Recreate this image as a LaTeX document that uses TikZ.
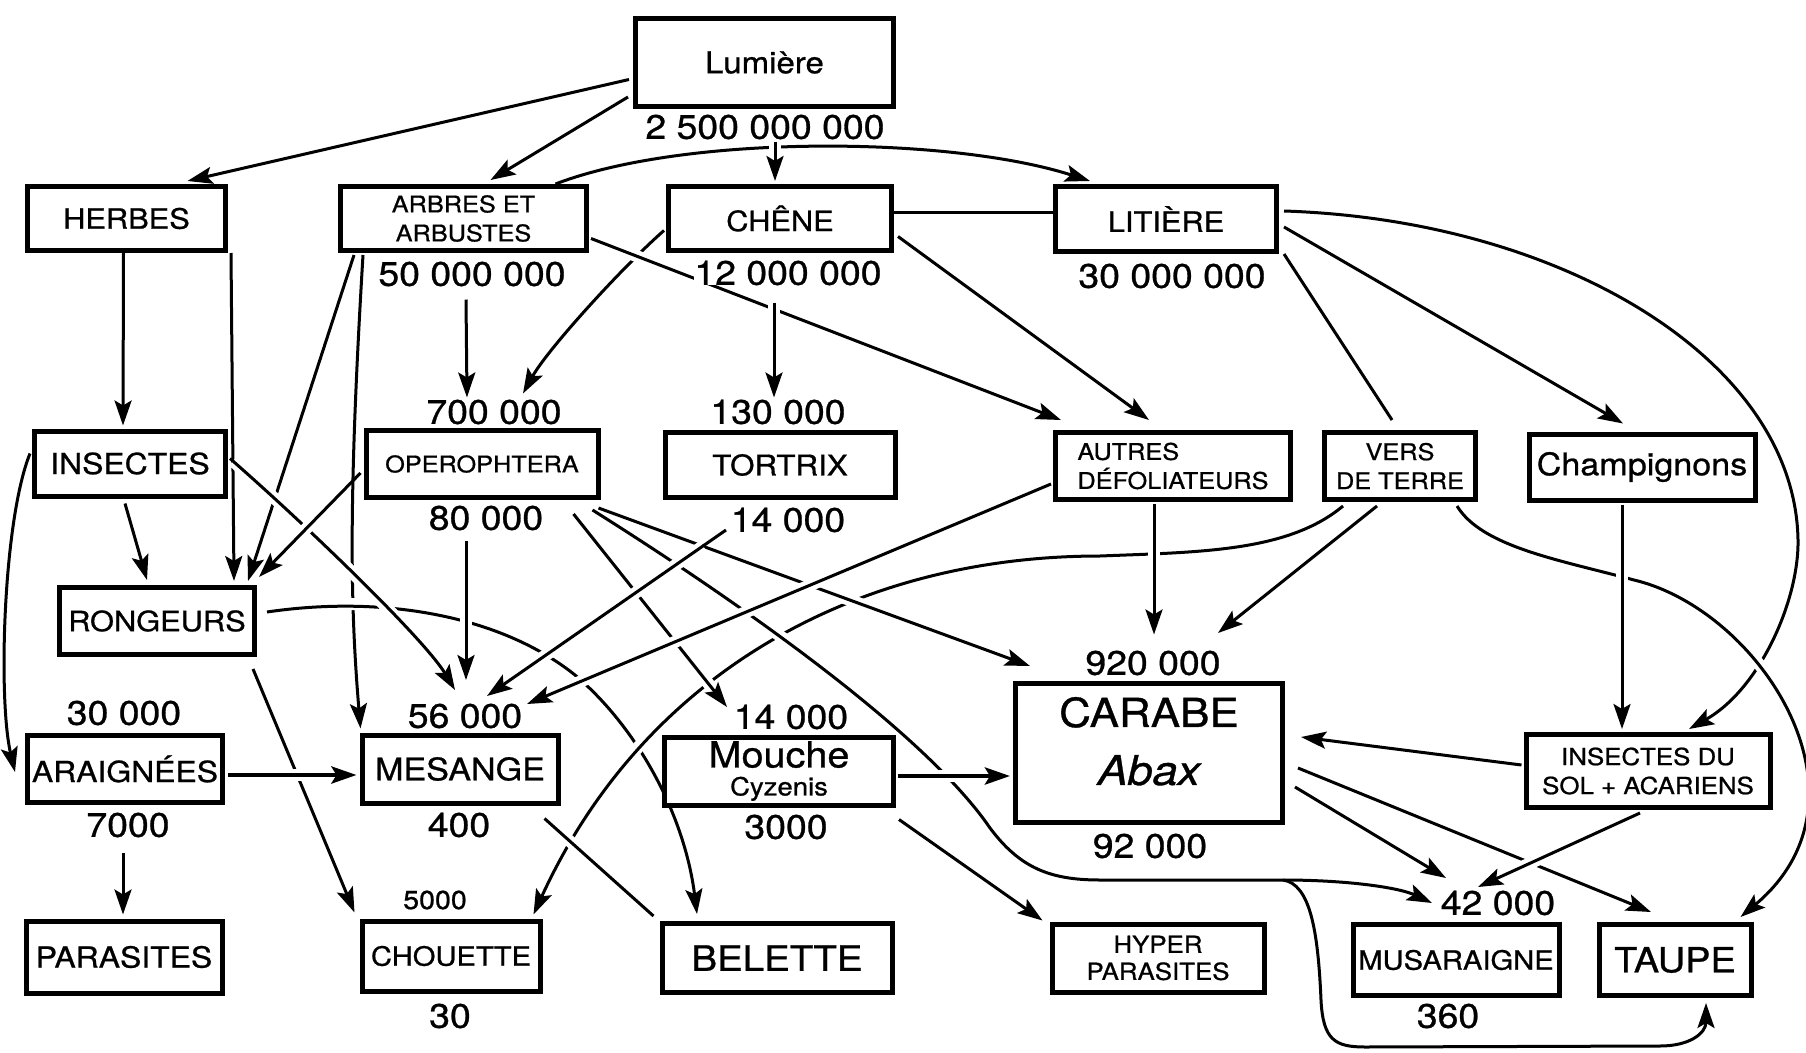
\documentclass[tikz,border=0pt]{standalone}
\usepackage{fontspec}
\setmainfont{TeX Gyre Heros}[FakeStretch=1.1,FakeBold=0.8]
\usetikzlibrary{arrows.meta}
\pgfdeclarelayer{bg}
\pgfsetlayers{bg,main}
\newcommand\fsz[2]{\fontsize{#1}{#2}\selectfont}
\begin{document}
\begin{tikzpicture}[x=1pt,y=-1pt,
  box/.style={draw=black, line width=5pt, fill=white, inner sep=0pt, align=center, font=\fsz{28}{30}},
  num/.style={fill=white, inner sep=0pt, font=\fsz{34}{36}},
  ln/.style={line width=3pt, line join=round},
  arr/.style={ln, -{Stealth[length=25pt,width=17pt,inset=5pt]}},
  brk/.style={preaction={draw=white, line width=12pt, arrows=-, shorten <=#1, shorten >=#1}},
  brk/.default=28pt]
\useasboundingbox (0,0) rectangle (1806,1052);

% ---------- boxes ----------
\node[box, minimum width=258pt, minimum height=88pt, font=\fsz{30}{32}] (lum) at (764.5,62.5) {Lumière};
\node[box, minimum width=198pt, minimum height=64pt] (herbes) at (126.5,218.5) {HERBES};
\node[box, minimum width=246pt, minimum height=64pt, font=\fsz{23}{29}] (arbres) at (463.5,218.5) {ARBRES ET\\ARBUSTES};
\node[box, minimum width=223pt, minimum height=64pt] (chene) at (780,218.5) {CHÊNE};
\node[box, minimum width=221pt, minimum height=65pt] (litiere) at (1166,219) {LITIÈRE};
\node[box, minimum width=191pt, minimum height=65pt, font=\fsz{29}{30}] (insectes) at (130,463.5) {INSECTES};
\node[box, minimum width=232pt, minimum height=67pt, font=\fsz{23}{25}] (opero) at (482,464) {OPEROPHTERA};
\node[box, minimum width=230pt, minimum height=65pt, font=\fsz{28.5}{30}] (tortrix) at (780,465) {TORTRIX};
\node[box, minimum width=235pt, minimum height=67pt, font=\fsz{23}{29}, align=left] (autres) at (1173,466) {AUTRES\\DÉFOLIATEURS};
\node[box, minimum width=151pt, minimum height=67pt, font=\fsz{23}{29}] (vers) at (1400,466) {VERS\\DE TERRE};
\node[box, minimum width=226pt, minimum height=66pt, font=\fsz{31}{32}] (champ) at (1642,467) {Champignons};
\node[box, minimum width=195pt, minimum height=67pt] (rongeurs) at (157,621) {RONGEURS};
\node[box, minimum width=195pt, minimum height=67pt, font=\fsz{29}{30}] (araignees) at (125,769) {ARAIGNÉES};
\node[box, minimum width=196pt, minimum height=68pt, font=\fsz{31}{32}] (mesange) at (460,769) {MESANGE};
\node[box, minimum width=229pt, minimum height=68pt, font=\fsz{36}{28}] (mouche) at (779,771) {Mouche\\{\fsz{25}{28}Cyzenis}};
\node[box, minimum width=267pt, minimum height=139pt, font=\fsz{40}{58}, text depth=24pt] (carabe) at (1149,753) {CARABE\\{\fsz{41}{58}\itshape Abax}};
\node[box, minimum width=244pt, minimum height=73pt, font=\fsz{23.5}{29}] (ids) at (1648,771) {INSECTES DU\\SOL + ACARIENS};
\node[box, minimum width=196pt, minimum height=72pt, font=\fsz{29}{30}] (parasites) at (124,957) {PARASITES};
\node[box, minimum width=178pt, minimum height=70pt, font=\fsz{26.5}{28}] (chouette) at (451,956) {CHOUETTE};
\node[box, minimum width=230pt, minimum height=69pt, font=\fsz{35}{36}] (belette) at (777,958) {BELETTE};
\node[box, minimum width=212pt, minimum height=68pt, font=\fsz{23.5}{27}] (hyper) at (1158,958) {HYPER\\PARASITES};
\node[box, minimum width=206pt, minimum height=71pt, font=\fsz{26.5}{28}] (musar) at (1456,960) {MUSARAIGNE};
\node[box, minimum width=152pt, minimum height=71pt, font=\fsz{34.5}{36}] (taupe) at (1675,960) {TAUPE};

% ---------- numbers ----------
\node[num] (n2500) at (765,127) {2 500 000 000};
\node[num] (n50m) at (472,274) {50 000 000};
\node[num] (n12m) at (788,273) {12 000 000};
\node[num] (n30m) at (1172,276) {30 000 000};
\node[num] (n700k) at (494,412) {700 000};
\node[num] (n130k) at (778,412) {130 000};
\node[num] (n80k) at (486,518) {80 000};
\node[num] (n14kt) at (788,520) {14 000};
\node[num] (n920k) at (1153,663) {920 000};
\node[num] (n30k) at (124,713) {30 000};
\node[num] (n56k) at (465,716) {56 000};
\node[num] (n14km) at (791,717) {14 000};
\node[num] (n7000) at (128,825) {7000};
\node[num] (n400) at (459,825) {400};
\node[num] (n3000) at (786,827) {3000};
\node[num] (n92k) at (1150,846) {92 000};
\node[num, font=\fsz{26}{28}] (n5000) at (435,900) {5000};
\node[num] (n42k) at (1498,903) {42 000};
\node[num] (n30) at (450,1016) {30};
\node[num] (n360) at (1448,1016) {360};

\coordinate (split) at (1283,880);

% ---------- connectors ----------
\begin{pgfonlayer}{bg}
\fill[white] (0,0) rectangle (1806,1052);
% lowest layer
\draw[arr,brk] ([shift={(92,0)}]arbres.north) .. controls +(130,-50) and +(-140,-45) .. ([shift={(37,-3)}]litiere.north west);
\draw[arr,brk] ([shift={(25,2)}]arbres.south west) .. controls +(-15,250) and +(-10,-120) .. ([shift={(1,-4)}]mesange.north west);
\draw[arr,brk] ([shift={(-2,12)}]chene.west) .. controls +(-40,35) and +(25,-45) .. ([shift={(29,-6)}]n700k.north);
\draw[arr,brk] ([shift={(10,-9)}]rongeurs.east) .. controls +(115,-17) and +(-75,-60) .. (575,675) .. controls +(65,55) and +(-12,-96) .. ([shift={(-80,-7)}]belette.north);
\draw[arr,brk] ([shift={(21,4)}]vers.south west) .. controls +(-55,46) and +(100,-4) .. (1100,556) .. controls +(-250,0) and +(108,-236) .. ([shift={(-9,-4)}]chouette.north east);
\draw[arr,brk] ([shift={(5,-8)}]litiere.east) .. controls +(278,9) and +(-3,-180) .. (1798,540) .. controls +(1,60) and +(71,-40) .. ([shift={(41,-3)}]ids.north);
% from OPEROPHTERA
\draw[arr,brk] ([shift={(-8,10)}]opero.south east) .. controls +(170,107) and +(-60,-88) .. (990,828) .. controls +(30,40) and +(-50,0) .. (1100,880) -- (split) .. controls +(67,0) and +(-32,-15) .. ([shift={(-66,0)}]n42k.center);
\draw[arr,brk] (split) .. controls +(27,4) and +(-3,-70) .. (1321,1000) .. controls +(2,40) and +(-30,0) .. (1365,1047) -- (1660,1046) .. controls +(30,0) and +(0,30) .. ([shift={(31,5)}]taupe.south);
\draw[arr,brk] ([shift={(-2,8)}]opero.south east) -- ([shift={(17,-15)}]carabe.north west);
\draw[arr,brk] ([shift={(-27,14)}]opero.south east) -- ([shift={(-64,-10)}]n14km.center);
% into MESANGE
\draw[arr,brk] ([shift={(-62,10)}]n14kt.center) -- ([shift={(22,-20)}]n56k.center);
\draw[arr,brk] ([shift={(-2,18)}]autres.west) -- ([shift={(62,-12)}]n56k.center);
\draw[arr,brk] ([shift={(3,0)}]herbes.south east) -- ([shift={(77,-4)}]rongeurs.north);
\draw[arr,brk] ([shift={(16,2)}]arbres.south west) -- ([shift={(91,-4)}]rongeurs.north);
\draw[arr,brk=4pt] ([shift={(2,-5)}]insectes.east) .. controls +(80,70) and +(-30,-50) .. ([shift={(-10,-26)}]n56k.center);
\draw[arr,brk] ([shift={(-3,9)}]opero.west) -- ([shift={(2,-8)}]rongeurs.north east);
\draw[arr,brk] ([shift={(-20,23)}]n80k.center) -- ([shift={(1,-36)}]n56k.center);
\draw[arr,brk] ([shift={(-4,12)}]rongeurs.south east) -- ([shift={(-5,-6)}]chouette.north west);
\draw[arr,brk,line width=4.5pt] ([shift={(3,6)}]araignees.east) -- ([shift={(-3,6)}]mesange.west);
\draw[ln,brk] ([shift={(-16,13)}]mesange.south east) -- ([shift={(-6,-5)}]belette.north west);
\draw[arr,brk,line width=4.5pt] ([shift={(2,5)}]mouche.east) -- ([shift={(-3,23)}]carabe.west);
% right side
\draw[arr,brk] ([shift={(-21,4)}]vers.south east) .. controls +(25,41) and +(-74,-20) .. (1634,580) .. controls +(126,30) and +(142,-119) .. ([shift={(-13,-5)}]taupe.north east);
\draw[arr,brk] ([shift={(-20,2)}]champ.south) -- ([shift={(-26,-3)}]ids.north);
\draw[arr,brk] ([shift={(13,15)}]carabe.east) -- ([shift={(-24,-10)}]taupe.north);
\draw[arr,brk] ([shift={(-8,3)}]ids.south) -- ([shift={(-20,-16)}]n42k.center);
% top
\draw[arr,brk] ([shift={(2,20)}]arbres.east) -- ([shift={(8,-10)}]autres.north west);
\draw[arr,brk=2pt] ([shift={(-14,17)}]n12m.south) -- ([shift={(-4,-2)}]n130k.north);
\draw[arr,brk=0pt] ([shift={(10,2)}]n2500.south) -- ([shift={(-5,-3)}]chene.north);
\draw[arr] ([shift={(-4,17)}]lum.west) -- ([shift={(61,-3)}]herbes.north);
\draw[arr] ([shift={(-5,-12)}]lum.south west) -- ([shift={(27,-4)}]arbres.north);
\draw[ln] ([shift={(0,-6)}]chene.east) -- ([shift={(0,-6.5)}]litiere.west);
\draw[arr] ([shift={(-3,0)}]herbes.south) -- ([shift={(-7,-3)}]insectes.north);
\draw[arr] ([shift={(-6,13)}]n50m.south) -- ([shift={(-27,-2)}]n700k.north);
\draw[arr] ([shift={(4,18)}]chene.east) -- ([shift={(-24,-10)}]autres.north);
\draw[ln] ([shift={(5,0)}]litiere.south east) -- ([shift={(-8,-10)}]vers.north);
\draw[arr] ([shift={(5,8)}]litiere.east) -- ([shift={(-19,-8)}]champ.north);
\draw[arr] ([shift={(-23,4)}]vers.south) -- ([shift={(65,-30)}]n920k.center);
\draw[arr,brk] ([shift={(-19,2)}]autres.south) -- ([shift={(1,-16)}]n920k.north);
\draw[arr] ([shift={(-5,5)}]insectes.south) -- ([shift={(-10,-5)}]rongeurs.north);
\draw[arr] ([shift={(-2,-10)}]insectes.west) .. controls +(-27,67) and +(-17,-72) .. ([shift={(-10,3)}]araignees.west);
\draw[arr] ([shift={(-5,28)}]n7000.center) -- ([shift={(-1,-4)}]parasites.north);
\draw[arr] ([shift={(3,12)}]mouche.south east) -- ([shift={(-7,-1)}]hyper.north west);
\draw[arr] ([shift={(-2,-6)}]ids.west) -- ([shift={(16,-16)}]carabe.east);
\draw[arr] ([shift={(10,34)}]carabe.east) -- ([shift={(-52,-25)}]n42k.center);
\end{pgfonlayer}
\end{tikzpicture}
\end{document}
